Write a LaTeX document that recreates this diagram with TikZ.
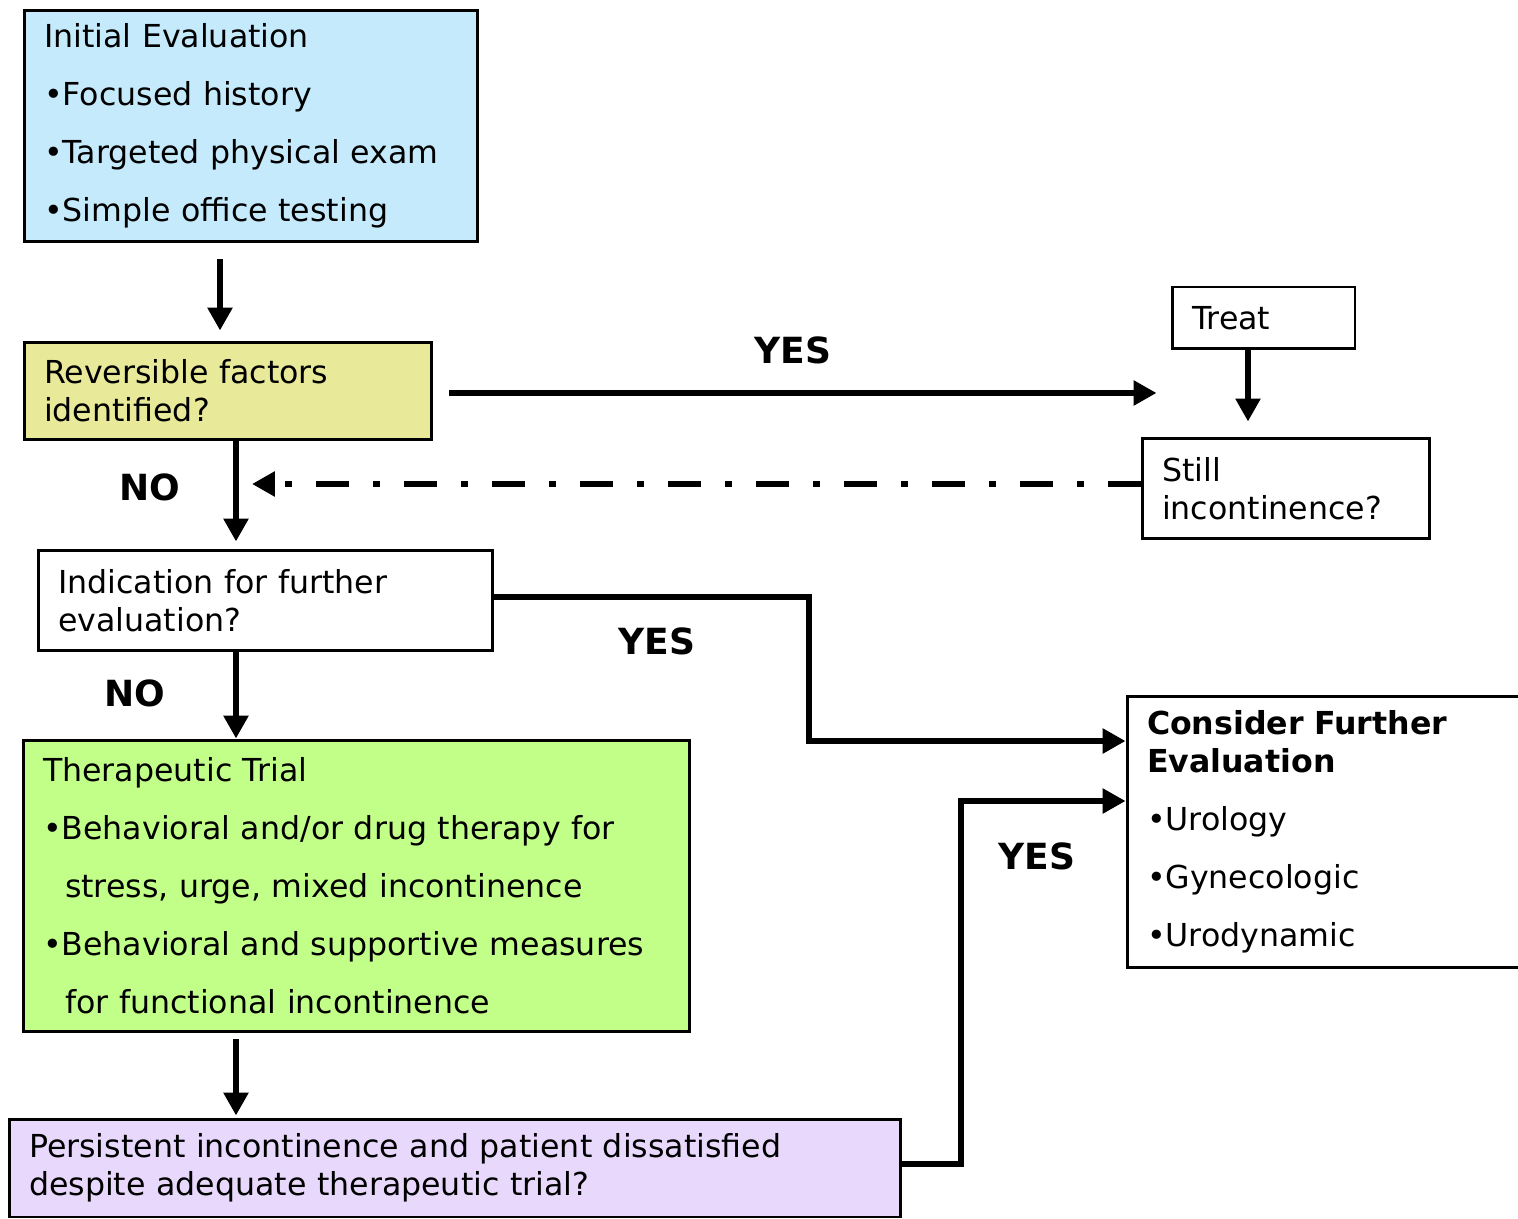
\documentclass[tikz,border=0pt]{standalone}
\usepackage{fontspec}
\setmainfont{DejaVu Sans}
\usetikzlibrary{arrows.meta,calc}
\definecolor{evalblue}{HTML}{C4EAFC}
\definecolor{reversyellow}{HTML}{E9E99A}
\definecolor{trialgreen}{HTML}{C2FF88}
\definecolor{persistpurple}{HTML}{E7D8FC}
\hyphenpenalty=10000
\exhyphenpenalty=10000
\newcommand{\boxline}{1.7pt}
\newcommand{\arrowline}{3.7pt}
\newcommand{\itemgap}{\\[11.4pt]}
\tikzset{
  flowbox/.style={draw, line width=\boxline, align=left, inner xsep=0.4cm, inner ysep=0pt,
    font=\fontsize{18pt}{21.6pt}\selectfont},
  flowarrow/.style={line width=\arrowline, -{Triangle[length=0.46cm,width=0.48cm]}},
  answer/.style={font=\fontsize{20.5pt}{21.6pt}\selectfont\bfseries},
}

\begin{document}
\begin{tikzpicture}[x=0.02cm, y=-0.02cm]
\useasboundingbox (0,0) rectangle (1518,1219);
\node[flowbox, fill=evalblue, text width=8.28cm, minimum height=4.64cm] (initial) at (251,126) {Initial Evaluation\itemgap •Focused history\itemgap •Targeted physical exam\itemgap •Simple office testing};
\node[flowbox, fill=reversyellow, text width=7.36cm, minimum height=1.96cm] (reversible) at (228,391) {Reversible factors\\identified?};
\node[flowbox, text width=8.3cm, minimum height=2.02cm] (indication) at (265.5,600.5) {Indication for further\\evaluation?};
\node[flowbox, fill=trialgreen, text width=12.54cm, minimum height=5.84cm] (trial) at (356.5,886) {Therapeutic Trial\itemgap •Behavioral and/or drug therapy for\itemgap \hspace*{0.44cm}stress, urge, mixed incontinence\itemgap •Behavioral and supportive measures\itemgap \hspace*{0.44cm}for functional incontinence};
\node[flowbox, fill=persistpurple, text width=17.04cm, minimum height=1.96cm] (persistent) at (455,1168) {Persistent incontinence and patient dissatisfied\\despite adequate therapeutic trial?};
\node[flowbox, text width=2.86cm, minimum height=1.24cm] (treat) at (1263.5,318) {Treat};
\node[flowbox, text width=4.96cm, minimum height=2.02cm] (still) at (1286,488.5) {Still\\incontinence?};
\node[flowbox, text width=7.6cm, minimum height=5.44cm] (further) at (1337,832) {\textbf{Consider Further}\\\textbf{Evaluation}\itemgap •Urology\itemgap •Gynecologic\itemgap •Urodynamic};
%bends
\coordinate (spineA) at (220,0);
\coordinate (spine) at (236,0);
\coordinate (treatdrop) at (1248,0);
\coordinate (bendC) at (809,0);
\coordinate (bendE) at (961,0);
\coordinate (loopback) at ([yshift=0.09cm]still.west);
\coordinate (furtherin1) at ([yshift=1.82cm]further.west);
\coordinate (furtherin2) at ([yshift=0.62cm]further.west);
%arrows
\draw[flowarrow, shorten <=0.32cm, shorten >=0.2cm] (initial.south -| spineA) -- (reversible.north -| spineA);
\draw[flowarrow, shorten >=0.14cm] (reversible.south -| spine) -- (indication.north -| spine);
\draw[flowarrow] (indication.south -| spine) -- (trial.north -| spine);
\draw[flowarrow, shorten <=0.12cm, shorten >=0.04cm] (trial.south -| spine) -- (persistent.north -| spine);
\draw[flowarrow, shorten <=0.32cm, shorten >=0.28cm] ([yshift=-0.04cm]reversible.east) -- ([yshift=-0.04cm]reversible.east -| treat.west);
\draw[flowarrow, shorten >=0.3cm] (treat.south -| treatdrop) -- (still.north -| treatdrop);
\draw[flowarrow, shorten >=0.32cm, dash pattern=on 0.66cm off 0.48cm on 0.14cm off 0.48cm] (loopback) -- (loopback -| spine);
\draw[flowarrow] ([yshift=0.07cm]indication.east) -- ([yshift=0.07cm]indication.east -| bendC) |- (furtherin1);
\draw[flowarrow] ([yshift=0.08cm]persistent.east) -- ([yshift=0.08cm]persistent.east -| bendE) |- (furtherin2);
%labels
\node[answer] (yesreversible) at (793,350) {YES};
\node[answer] (noreversible) at (150,487) {NO};
\node[answer] (yesindication) at (657,641) {YES};
\node[answer] (noindication) at (135,693) {NO};
\node[answer] (yespersistent) at (1037,856) {YES};
\end{tikzpicture}
\end{document}
